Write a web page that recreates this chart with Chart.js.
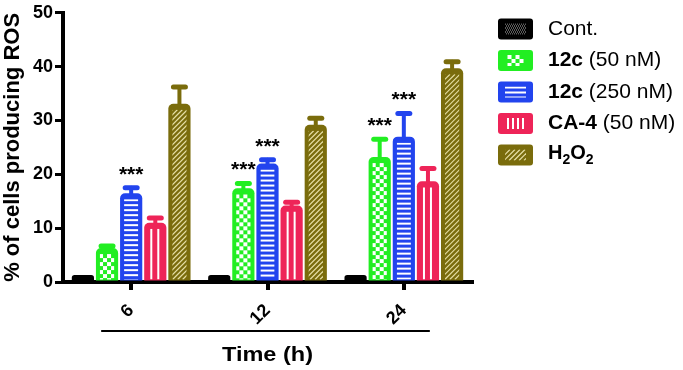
<!DOCTYPE html>
<html>
<head>
<meta charset="utf-8">
<script src="https://cdn.jsdelivr.net/npm/chart.js@4"></script>
<style>
  html,body{margin:0;padding:0;background:#fff;}
  #wrap{position:relative;width:683px;height:370px;}
</style>
</head>
<body>
<div id="wrap"><canvas id="c"></canvas></div>
<script>
// ---- data ----
const timeLabels = ['6', '12', '24'];
const contVals = [1.3, 1.3, 1.3];
const c50Vals  = [6.3, 17.4, 23.2];
const c250Vals = [16.5, 22.0, 27.0];
const ca4Vals  = [11.0, 14.2, 18.7];
const h2o2Vals = [33.1, 29.2, 39.7];
const contErr = [0, 0, 0];
const c50Err  = [0.4, 0.9, 3.3];
const c250Err = [1.0, 0.7, 4.3];
const ca4Err  = [0.9, 0.6, 2.4];
const h2o2Err = [3.1, 1.2, 1.2];
const c50Stars  = [false, true, true];
const c250Stars = [true, true, true];
const yTicks = [0, 10, 20, 30, 40, 50];

const FONT = '"Liberation Sans", Arial, Helvetica, sans-serif';

const series = [
  {key:'cont', bold:'', rest:'Cont.', color:'#000000', pat:'dots',   vals:contVals, err:contErr, stars:null},
  {key:'c50',  bold:'12c', rest:' (50 nM)', color:'#22ee22', pat:'checker', vals:c50Vals, err:c50Err, stars:c50Stars},
  {key:'c250', bold:'12c', rest:' (250 nM)', color:'#2244ee', pat:'hlines', vals:c250Vals, err:c250Err, stars:c250Stars},
  {key:'ca4',  bold:'CA-4', rest:' (50 nM)', color:'#ee2458', pat:'vlines', vals:ca4Vals, err:ca4Err, stars:null},
  {key:'h2o2', bold:'H2O2', rest:'', color:'#7a6c0c', pat:'diag', vals:h2o2Vals, err:h2o2Err, stars:null},
];

// inner fill patterns, drawn inside a rect
function drawPattern(ctx, kind, l, t, r, b, legend){
  ctx.save();
  ctx.beginPath(); ctx.rect(l, t, r-l, b-t); ctx.clip();
  const cx = (l+r)/2;
  if(kind==='dots'){
    ctx.fillStyle='rgba(255,255,255,0.7)';
    for(let y=t;y<b;y+=2)for(let x=l+((y-t)/2%2);x<r;x+=2)ctx.fillRect(x,y,1,1);
  } else if(kind==='checker'){
    ctx.fillStyle='#fff';
    const s=4;
    let row=0;
    for(let y=t;y<b;y+=s,row++){
      let col=0;
      for(let x=cx-s*2;x<cx+s*2;x+=s,col++) if((row+col)%2===0) ctx.fillRect(x,y,s,s);
    }
  } else if(kind==='hlines'){
    ctx.fillStyle='#fff';
    for(let y=t;y<b;y+=5)ctx.fillRect(l,y,r-l,2);
  } else if(kind==='vlines'){
    ctx.fillStyle='#fff';
    const offs=legend?[-7.5,-2.5,2.5,7.5]:[-4,3];
    offs.forEach(o=>ctx.fillRect(cx+o-1,t,2,b-t));
  } else if(kind==='diag'){
    ctx.strokeStyle='#e6dfa6'; ctx.lineWidth=1.2;
    for(let x=l-(b-t);x<r+5;x+=5){ctx.beginPath();ctx.moveTo(x,b);ctx.lineTo(x+(b-t),t);ctx.stroke();}
  }
  ctx.restore();
}

const barDecor = {
  id:'barDecor',
  afterDatasetsDraw(chart){
    const ctx=chart.ctx, ys=chart.scales.y;
    chart.data.datasets.forEach((ds,di)=>{
      const s=series[di];
      const meta=chart.getDatasetMeta(di);
      meta.data.forEach((el,i)=>{
        const p=el.getProps(['x','y','base','width'],true);
        const l=p.x-p.width/2, r=p.x+p.width/2;
        if(p.base-p.y>8) drawPattern(ctx, s.pat, l+4, p.y+6, r-4, p.base-1, false);
        // error bar (upper only)
        const e=s.err[i];
        const topY=ys.getPixelForValue(s.vals[i]+e);
        if(e>0){
          ctx.save();
          ctx.strokeStyle=s.color; ctx.lineCap='round';
          ctx.lineWidth=4;
          ctx.beginPath();ctx.moveTo(p.x,p.y+2);ctx.lineTo(p.x,topY);ctx.stroke();
          ctx.lineWidth=5;
          ctx.beginPath();ctx.moveTo(p.x-6,topY);ctx.lineTo(p.x+6,topY);ctx.stroke();
          ctx.restore();
        }
        if(s.stars && s.stars[i]){
          ctx.save();
          ctx.fillStyle='#000';
          ctx.font='bold 21px '+FONT;
          ctx.textAlign='center'; ctx.textBaseline='alphabetic';
          ctx.fillText('***', p.x, topY-7);
          ctx.restore();
        }
      });
    });
  }
};

function stretchText(ctx, t, x, y, sx){
  ctx.save();ctx.translate(x,y);ctx.scale(sx,1);ctx.fillText(t,0,0);ctx.restore();
}

const extras = {
  id:'extras',
  afterDraw(chart){
    const ctx=chart.ctx, xs=chart.scales.x;
    ctx.save();
    // group line under tick labels
    ctx.strokeStyle='#000'; ctx.lineWidth=2;
    ctx.beginPath();ctx.moveTo(xs.getPixelForValue(0)-30,331);ctx.lineTo(xs.getPixelForValue(2)+26,331);ctx.stroke();
    ctx.fillStyle='#000';
    ctx.font='bold 21px '+FONT;
    ctx.textAlign='center'; ctx.textBaseline='middle';
    stretchText(ctx,'Time (h)', xs.getPixelForValue(1), 355, 1.12);
    // legend
    const bx=498, bw=35, bh=21;
    series.forEach((s,k)=>{
      const cy=29+k*31.5;
      const by=cy-bh/2;
      ctx.fillStyle=s.color;
      ctx.beginPath();ctx.roundRect(bx,by,bw,bh,3);ctx.fill();
      drawPattern(ctx, s.pat, bx+7, by+5, bx+bw-7, by+bh-5, true);
      ctx.fillStyle='#000';
      ctx.textAlign='left'; ctx.textBaseline='middle';
      let tx=548;
      if(s.key==='h2o2'){
        const parts=[['H',0],['2',1],['O',0],['2',1]];
        parts.forEach(([t,sub])=>{
          ctx.font=(sub?'bold 14px ':'bold 20px ')+FONT;
          ctx.fillText(t,tx,cy+(sub?5:-2));
          tx+=ctx.measureText(t).width;
        });
      } else {
        if(s.bold){
          ctx.font='bold 21px '+FONT;
          ctx.fillText(s.bold,tx,cy);
          tx+=ctx.measureText(s.bold).width;
        }
        ctx.font='21px '+FONT;
        ctx.fillText(s.rest,tx,cy);
      }
    });
    ctx.restore();
  }
};

new Chart(document.getElementById('c'),{
  type:'bar',
  data:{
    labels:timeLabels,
    datasets:series.map(s=>({
      label:s.rest,
      data:s.vals,
      backgroundColor:s.color,
      borderWidth:0,
      borderRadius:5,
      borderSkipped:'start',
      categoryPercentage:0.885,
      barPercentage:0.92
    }))
  },
  options:{
    responsive:true,
    maintainAspectRatio:false,
    animation:false,
    layout:{padding:{left:0,right:211,top:3,bottom:0}},
    plugins:{legend:{display:false},tooltip:{enabled:false}},
    scales:{
      x:{
        grid:{drawOnChartArea:false,offset:false,drawTicks:true,tickLength:8,color:'#000',lineWidth:4},
        border:{color:'#000',width:4},
        ticks:{color:'#000',font:{family:FONT,size:18,weight:'bold'},minRotation:45,maxRotation:45,padding:10},
        afterFit(s){s.height=88;}
      },
      y:{
        min:0,max:50,
        afterBuildTicks(s){s.ticks=yTicks.map(v=>({value:v}));},
        grid:{drawOnChartArea:false,drawTicks:true,tickLength:8,color:'#000',lineWidth:3},
        border:{color:'#000',width:4},
        ticks:{color:'#000',font:{family:FONT,size:18,weight:'bold'},padding:2},
        title:{display:true,text:'% of cells producing ROS',color:'#000',font:{family:FONT,size:22,weight:'bold'},padding:{top:0,bottom:0}},
        afterFit(s){s.width=63;}
      }
    }
  },
  plugins:[barDecor,extras]
});
</script>
</body>
</html>
